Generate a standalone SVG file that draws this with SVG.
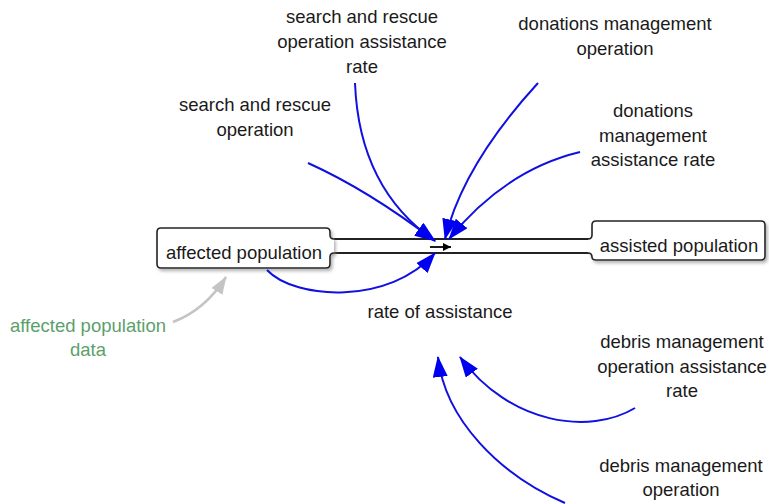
<svg xmlns="http://www.w3.org/2000/svg" width="769" height="504" viewBox="0 0 769 504">
<style>
text{font-family:"Liberation Sans",Arial,sans-serif;font-size:18.5px;fill:#1a1a1a;text-anchor:middle}
.green{fill:#5c9f6b}
.box{fill:#fff;stroke:#222;stroke-width:1.6;filter:url(#sh)}
.pipe{fill:none;stroke:#222;stroke-width:2}
.link{fill:none;stroke:#1010e0;stroke-width:2;marker-end:url(#bh)}
.glink{fill:none;stroke:#c4c4c4;stroke-width:2.5;marker-end:url(#gh)}
</style>
<defs>
<filter id="sh" x="-10%" y="-20%" width="130%" height="160%">
<feDropShadow dx="2" dy="2.5" stdDeviation="1.5" flood-color="#888" flood-opacity="0.6"/>
</filter>
<marker id="bh" markerUnits="userSpaceOnUse" markerWidth="22" markerHeight="16" refX="20" refY="7.5" orient="auto">
<path d="M0,0 L21,7.5 L0,15 z" fill="#0000f0"/>
</marker>
<marker id="gh" markerUnits="userSpaceOnUse" markerWidth="20" markerHeight="14" refX="17" refY="6.5" orient="auto">
<path d="M0,0 L18,6.5 L0,13 z" fill="#c4c4c4"/>
</marker>
<marker id="fh" markerUnits="userSpaceOnUse" markerWidth="9" markerHeight="8" refX="8" refY="4" orient="auto">
<path d="M0,0 L8,4 L0,8 z" fill="#000"/>
</marker>
</defs>

<g id="rate-of-assistance">
<rect x="330" y="239" width="262" height="14" fill="#fff"/>
<path class="pipe" d="M334,239 H589 M334,253 H589"/>
<path d="M430,247 H451" stroke="#000" stroke-width="1.8" fill="none" marker-end="url(#fh)"/>
<text x="440" y="318">rate of assistance</text>
</g>

<g id="affected-population">
<path class="box" d="M334,239 Q330,239 330,235 V232 Q330,228 326,228 H161 Q157,228 157,232 V264 Q157,268 161,268 H326 Q330,268 330,264 V257 Q330,253 334,253"/>
<text x="244" y="259">affected population</text>
</g>

<g id="assisted-population">
<path class="box" d="M588,239 Q592,239 592,235 V225 Q592,221 596,221 H761 Q765,221 765,225 V256 Q765,260 761,260 H596 Q592,260 592,257 Q592,253 588,253"/>
<text x="679" y="252">assisted population</text>
</g>

<g id="search-and-rescue-operation-assistance-rate">
<text x="362" y="23">search and rescue</text>
<text x="362" y="48">operation assistance</text>
<text x="362" y="73">rate</text>
</g>

<g id="search-and-rescue-operation">
<text x="255" y="111">search and rescue</text>
<text x="255" y="136">operation</text>
</g>

<g id="donations-management-operation">
<text x="615" y="30">donations management</text>
<text x="615" y="55">operation</text>
</g>

<g id="donations-management-assistance-rate">
<text x="653" y="117">donations</text>
<text x="653" y="142">management</text>
<text x="653" y="166">assistance rate</text>
</g>

<g id="affected-population-data">
<text class="green" x="88" y="332">affected population</text>
<text class="green" x="88" y="356">data</text>
</g>

<g id="debris-management-operation-assistance-rate">
<text x="682" y="348">debris management</text>
<text x="682" y="373">operation assistance</text>
<text x="682" y="397">rate</text>
</g>

<g id="debris-management-operation">
<text x="681" y="472">debris management</text>
<text x="681" y="496">operation</text>
</g>

<g id="connectors">
<path class="link" d="M308,163 Q368,190 435,241"/>
<path class="link" d="M355,83 C358,160 390,210 435,241"/>
<path class="link" d="M538,83 C495,130 458,185 445,239"/>
<path class="link" d="M580,152 Q505,170 449,239"/>
<path class="link" d="M267,270 C295,300 390,305 435,253"/>
<path class="link" d="M635,408 C590,435 510,425 460,357"/>
<path class="link" d="M565,503 C500,475 445,420 438,357"/>
<path class="glink" d="M173,322 Q205,310 226,277"/>
</g>
</svg>
